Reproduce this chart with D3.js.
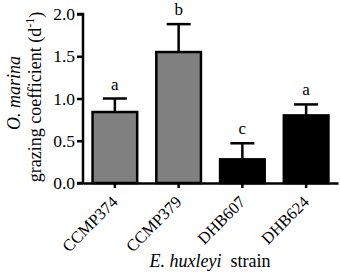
<!DOCTYPE html>
<html>
<head>
<meta charset="utf-8">
<script src="https://cdn.jsdelivr.net/npm/d3@7"></script>
<style>
  body { margin: 0; background: #fff; }
  text { font-family: "Liberation Serif", "Times New Roman", serif; fill: #000; }
</style>
</head>
<body>
<div id="chart"></div>
<script>
const strains = ["CCMP374", "CCMP379", "DHB607", "DHB624"];
const grazing = [0.84, 1.55, 0.28, 0.80];
const errorTop = [1.00, 1.88, 0.47, 0.93];
const letters = ["a", "b", "c", "a"];
const fills = ["#808080", "#808080", "#000000", "#000000"];
const yTicks = [0, 0.5, 1.0, 1.5, 2.0];

const width = 340, height = 274;
const margin = { top: 14, right: 2, bottom: 91, left: 83 };
const w = width - margin.left - margin.right;
const h = height - margin.top - margin.bottom;

const svg = d3.select("#chart").append("svg")
  .attr("width", width)
  .attr("height", height);

const g = svg.append("g")
  .attr("transform", `translate(${margin.left},${margin.top})`);

const x = d3.scaleBand().domain(strains).range([0, w]).paddingInner(0.3).paddingOuter(0.15);
const y = d3.scaleLinear().domain([0, 2]).range([h, 0]);

// error bars (drawn first so the bar covers the lower half)
g.selectAll(".err").data(strains).enter().append("g")
  .attr("class", "err")
  .each(function (d, i) {
    const cx = x(d) + x.bandwidth() / 2;
    const sel = d3.select(this);
    sel.append("line")
      .attr("x1", cx).attr("x2", cx)
      .attr("y1", y(grazing[i])).attr("y2", y(errorTop[i]))
      .attr("stroke", "#000").attr("stroke-width", 2.5);
    sel.append("line")
      .attr("x1", cx - 12).attr("x2", cx + 12)
      .attr("y1", y(errorTop[i])).attr("y2", y(errorTop[i]))
      .attr("stroke", "#000").attr("stroke-width", 2.5);
  });

g.selectAll(".bar").data(strains).enter().append("rect")
  .attr("class", "bar")
  .attr("x", d => x(d))
  .attr("y", (d, i) => y(grazing[i]))
  .attr("width", x.bandwidth())
  .attr("height", (d, i) => h - y(grazing[i]))
  .attr("fill", (d, i) => fills[i])
  .attr("stroke", "#000")
  .attr("stroke-width", 2.5);

g.selectAll(".letter").data(strains).enter().append("text")
  .attr("class", "letter")
  .attr("x", d => x(d) + x.bandwidth() / 2)
  .attr("y", (d, i) => y(errorTop[i]) - 9)
  .attr("text-anchor", "middle")
  .attr("font-size", 17)
  .text((d, i) => letters[i]);

// axes
const yAxis = g.append("g")
  .call(d3.axisLeft(y).tickValues(yTicks).tickFormat(d3.format(".1f")).tickSize(6).tickPadding(2));
const xAxis = g.append("g")
  .attr("transform", `translate(0,${h})`)
  .call(d3.axisBottom(x).tickSize(5).tickSizeOuter(0));

[yAxis, xAxis].forEach(a => {
  a.select(".domain").attr("stroke-width", 2.5);
  a.selectAll(".tick line").attr("stroke-width", 2.5);
  a.selectAll("text").attr("font-family", "Liberation Serif, serif").attr("fill", "#000");
});
yAxis.selectAll("text").attr("font-size", 17.5);
yAxis.select(".domain").attr("d", `M-6,${h}H0V0H-6`);

xAxis.selectAll(".tick text")
  .attr("font-size", 16.5)
  .attr("text-anchor", "end")
  .attr("x", 0).attr("y", 0).attr("dy", 0)
  .attr("transform", "translate(4,20) rotate(-45)");

// axis titles
const xt = svg.append("text")
  .attr("x", 210).attr("y", 267)
  .attr("text-anchor", "middle")
  .attr("font-size", 18);
xt.append("tspan").attr("font-style", "italic").text("E. huxleyi");
xt.append("tspan").text("\u00a0 strain");

svg.append("text")
  .attr("transform", "translate(20,93) rotate(-90)")
  .attr("text-anchor", "middle")
  .attr("font-size", 18)
  .attr("font-style", "italic")
  .text("O. marina");

const yt = svg.append("text")
  .attr("transform", "translate(41,97) rotate(-90)")
  .attr("text-anchor", "middle")
  .attr("font-size", 18);
yt.append("tspan").text("grazing coefficient (d");
yt.append("tspan").attr("font-size", 12).attr("dy", "-0.55em").text("-1");
yt.append("tspan").attr("dy", "0.4em").text(")");
</script>
</body>
</html>
